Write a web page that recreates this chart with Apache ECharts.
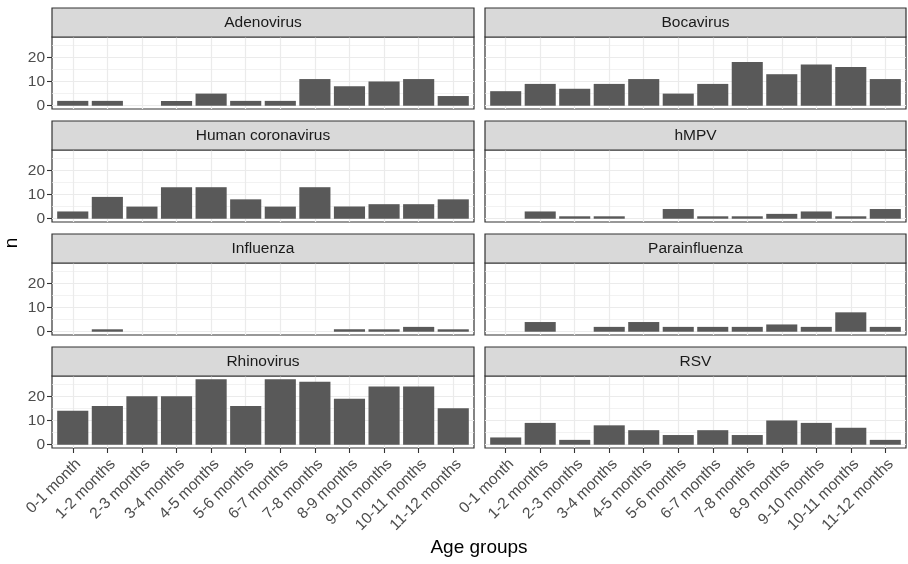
<!DOCTYPE html>
<html>
<head>
<meta charset="utf-8">
<script src="https://cdn.jsdelivr.net/npm/echarts@6/dist/echarts.min.js"></script>
<style>
  html, body { margin: 0; padding: 0; background: #ffffff; }
  #chart { width: 908px; height: 564px; }
</style>
</head>
<body>
<div id="chart"></div>
<script>
// ---- data ----
const categories = ['0-1 month', '1-2 months', '2-3 months', '3-4 months', '4-5 months', '5-6 months',
  '6-7 months', '7-8 months', '8-9 months', '9-10 months', '10-11 months', '11-12 months'];
const panelNames = ['Adenovirus', 'Bocavirus', 'Human coronavirus', 'hMPV', 'Influenza', 'Parainfluenza', 'Rhinovirus', 'RSV'];
const adenovirus = [2, 2, 0, 2, 5, 2, 2, 11, 8, 10, 11, 4];
const bocavirus = [6, 9, 7, 9, 11, 5, 9, 18, 13, 17, 16, 11];
const humanCoronavirus = [3, 9, 5, 13, 13, 8, 5, 13, 5, 6, 6, 8];
const hMPV = [0, 3, 1, 1, 0, 4, 1, 1, 2, 3, 1, 4];
const influenza = [0, 1, 0, 0, 0, 0, 0, 0, 1, 1, 2, 1];
const parainfluenza = [0, 4, 0, 2, 4, 2, 2, 2, 3, 2, 8, 2];
const rhinovirus = [14, 16, 20, 20, 27, 16, 27, 26, 19, 24, 24, 15];
const rsv = [3, 9, 2, 8, 6, 4, 6, 4, 10, 9, 7, 2];
const yTickValues = [0, 10, 20];
const yMinorValues = [5, 15, 25];
const yTitle = 'n';
const xTitle = 'Age groups';

const seriesValues = [adenovirus, bocavirus, humanCoronavirus, hMPV, influenza, parainfluenza, rhinovirus, rsv];

// ---- layout / style ----
const FONT = '"Liberation Sans", Arial, sans-serif';
const colLeft = [52, 485];
const colWidth = [422, 421];
const stripTop = [8, 121, 234, 347];
const stripH = 29;
const panelH = 72;
const TXT = 15.5;
const yMax = Math.max(...seriesValues.map(a => Math.max(...a)));
const yLo = -0.05 * yMax, yHi = yMax * 1.05;
const xPositions = categories.map((c, i) => i + 1);

const grids = [], xAxes = [], yAxes = [], series = [], titles = [], graphics = [];

panelNames.forEach((name, i) => {
  const r = Math.floor(i / 2), c = i % 2;
  const left = colLeft[c], width = colWidth[c];
  const sTop = stripTop[r];
  const pTop = sTop + stripH;
  const bottomRow = r === 3;
  const leftCol = c === 0;

  grids.push({
    left: left, top: pTop, width: width, height: panelH,
    show: true, backgroundColor: '#ffffff', borderColor: '#333333', borderWidth: 1.2,
    containLabel: false
  });

  xAxes.push({
    type: 'value', gridIndex: i, min: 0.4, max: 12.6,
    axisLine: { show: false, onZero: false },
    axisTick: { show: bottomRow, length: 5, customValues: xPositions, lineStyle: { color: '#333333', width: 1.1 } },
    axisLabel: {
      show: bottomRow, customValues: xPositions, rotate: 45, margin: 8,
      align: 'right', verticalAlign: 'top',
      fontSize: TXT, color: '#4d4d4d', fontFamily: FONT,
      formatter: v => categories[Math.round(v) - 1] || ''
    },
    splitLine: { show: true, lineStyle: { color: '#ebebeb', width: 1.2 } }
  });

  yAxes.push({
    type: 'value', gridIndex: i, min: yLo, max: yHi,
    axisLine: { show: false, onZero: false },
    axisTick: { show: leftCol, length: 5, customValues: yTickValues, lineStyle: { color: '#333333', width: 1.1 } },
    axisLabel: { show: leftCol, customValues: yTickValues, margin: 7, fontSize: TXT, color: '#4d4d4d', fontFamily: FONT },
    splitLine: { show: true, lineStyle: { color: '#ebebeb', width: 1.2 } }
  });
  yAxes.push({
    type: 'value', gridIndex: i, min: yLo, max: yHi, position: 'left',
    axisLine: { show: false, onZero: false },
    axisTick: { show: false, customValues: yMinorValues },
    axisLabel: { show: false },
    splitLine: { show: true, lineStyle: { color: '#ededed', width: 0.7 } }
  });

  series.push({
    type: 'bar', name: name, xAxisIndex: i, yAxisIndex: 2 * i,
    barWidth: '90%', itemStyle: { color: '#595959' },
    data: seriesValues[i].map((v, k) => [xPositions[k], v]),
    silent: true
  });

  graphics.push({
    type: 'rect', z: 1,
    shape: { x: left, y: sTop, width: width, height: stripH },
    style: { fill: '#d9d9d9', stroke: '#333333', lineWidth: 1.2 }
  });
  titles.push({
    text: name, left: left + width / 2, top: sTop + stripH / 2,
    textAlign: 'center', textVerticalAlign: 'middle', padding: 0,
    textStyle: { fontSize: TXT, fontWeight: 'normal', color: '#1a1a1a', fontFamily: FONT }
  });
});

graphics.push({
  type: 'text', x: 12, y: 243, rotation: Math.PI / 2, z: 5,
  style: { text: yTitle, fontSize: 19, fill: '#000000', fontFamily: FONT, align: 'center', verticalAlign: 'middle' }
});
graphics.push({
  type: 'text', x: 479, y: 548, z: 5,
  style: { text: xTitle, fontSize: 19, fill: '#000000', fontFamily: FONT, align: 'center', verticalAlign: 'middle' }
});

const chart = echarts.init(document.getElementById('chart'), null, { renderer: 'canvas' });
chart.setOption({
  animation: false,
  backgroundColor: '#ffffff',
  title: titles,
  grid: grids,
  xAxis: xAxes,
  yAxis: yAxes,
  series: series,
  graphic: graphics
});
</script>
</body>
</html>
